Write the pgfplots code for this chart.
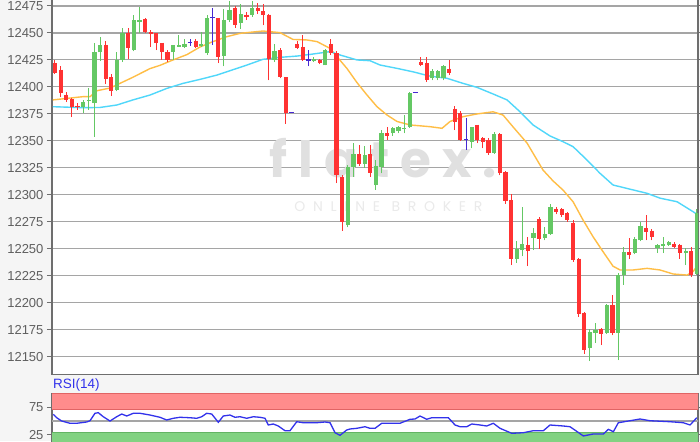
\documentclass[border=0pt]{standalone}
\usepackage{pgfplots}
\pgfplotsset{compat=1.18}
\usepackage{pgfplotstable}
\usepackage{fontspec}
\setmainfont{Liberation Sans}
\newfontfamily\wmfont{Poppins}

\definecolor{cup}{RGB}{100,200,100}
\definecolor{cdown}{RGB}{255,50,50}
\definecolor{cdoji}{RGB}{70,40,210}
\definecolor{maorange}{RGB}{255,190,70}
\definecolor{macyan}{RGB}{80,215,250}
\definecolor{gridc}{RGB}{165,165,165}
\definecolor{axisc}{RGB}{110,110,110}
\definecolor{bgc}{RGB}{245,245,245}
\definecolor{labc}{RGB}{95,95,95}
\definecolor{rsiblue}{RGB}{50,50,235}
\definecolor{bandred}{RGB}{255,140,140}
\definecolor{bandredd}{RGB}{225,100,100}
\definecolor{bandgreen}{RGB}{130,210,130}
\definecolor{bandgreend}{RGB}{100,180,100}
\definecolor{wmc}{RGB}{224,224,224}
\definecolor{wmc2}{RGB}{234,234,234}

\pgfplotstableread{
i O H L C
5 12381 12388 12376 12386
6 12387 12399 12379 12388
7 12385 12441 12354 12432
8 12432 12446 12424 12439
11 12397 12432 12396 12425
12 12425 12455 12423 12450
14 12434 12467 12433 12462
15 12460 12474 12450 12462
21 12432 12439 12425 12439
22 12437 12448 12437 12439
23 12437 12444 12436 12440
26 12438 12451 12437 12440
27 12431 12467 12430 12464
30 12429 12472 12419 12462
31 12462 12480 12460 12471
33 12459 12477 12454 12468
35 12467 12480 12465 12473
39 12425 12440 12423 12433
46 12424 12428 12423 12426
48 12420 12435 12420 12434
52 12272 12328 12270 12326
53 12326 12348 12317 12338
55 12329 12345 12325 12337
57 12309 12332 12305 12327
58 12326 12360 12320 12357
60 12357 12363 12355 12362
61 12359 12364 12357 12363
62 12361 12374 12357 12362
63 12363 12395 12362 12394
67 12408 12417 12406 12415
68 12408 12416 12406 12415
69 12408 12420 12406 12419
74 12349 12363 12343 12363
78 12339 12358 12338 12356
82 12241 12257 12237 12250
83 12249 12289 12243 12255
85 12260 12269 12249 12265
87 12260 12270 12258 12264
88 12264 12292 12263 12289
95 12158 12176 12146 12173
96 12172 12181 12163 12175
98 12172 12199 12171 12198
100 12172 12228 12147 12226
101 12226 12252 12217 12247
103 12246 12261 12245 12259
104 12258 12275 12257 12271
107 12251 12255 12246 12254
108 12253 12261 12246 12255
109 12254 12257 12253 12256
112 12246 12251 12235 12248
114 12227 12287 12226 12283
}\upcandles

\pgfplotstableread{
i O H L C
0 12422 12425 12412 12413
1 12416 12419 12391 12394
2 12393 12395 12386 12388
3 12389 12390 12372 12381
4 12382 12385 12379 12381
9 12439 12443 12403 12407
10 12409 12412 12392 12396
13 12450 12455 12426 12436
16 12463 12464 12450 12451
17 12451 12453 12437 12449
18 12450 12450 12434 12441
19 12441 12441 12425 12432
20 12432 12434 12423 12425
25 12443 12444 12436 12437
29 12464 12464 12422 12428
32 12473 12475 12455 12457
34 12467 12469 12462 12465
36 12473 12478 12468 12470
37 12470 12477 12457 12467
38 12467 12468 12406 12426
40 12434 12436 12408 12409
41 12409 12409 12366 12376
43 12440 12443 12435 12436
44 12437 12448 12424 12425
47 12425 12426 12421 12422
49 12440 12444 12430 12431
50 12431 12433 12311 12318
51 12317 12318 12267 12275
54 12338 12346 12327 12329
56 12338 12346 12317 12320
59 12357 12363 12351 12355
65 12423 12428 12419 12420
66 12422 12428 12405 12406
70 12417 12425 12411 12413
71 12380 12382 12360 12368
72 12376 12378 12350 12351
75 12365 12365 12348 12351
76 12353 12354 12343 12349
77 12351 12353 12337 12339
79 12356 12357 12318 12320
80 12321 12322 12292 12294
81 12295 12301 12235 12241
84 12254 12261 12234 12248
86 12278 12280 12250 12259
89 12287 12289 12282 12284
90 12287 12288 12280 12281
91 12283 12284 12275 12277
92 12274 12277 12238 12240
93 12241 12242 12187 12190
94 12191 12192 12153 12156
97 12176 12177 12161 12171
99 12198 12207 12170 12172
102 12247 12260 12241 12244
105 12269 12281 12258 12266
106 12267 12268 12258 12261
110 12255 12256 12251 12252
111 12254 12255 12241 12246
113 12248 12252 12224 12226
}\downcandles

\pgfplotstableread{
i O H L C
24 12441 12444 12438 12441
28 12464 12473 12439 12464
42 12376 12376 12376 12376
45 12425 12434 12419 12425
64 12395 12395 12395 12395
73 12351 12371 12342 12351
}\dojicandles

\pgfplotstableread{
x y
-0.36 12388
4.97 12391
6.22 12391
7.46 12396.5
9.77 12399
11.01 12402
13.85 12409
16.87 12417
18.65 12420
20.96 12425
23.45 12430
25.75 12437
28.06 12442
30.55 12446.6
32.86 12449.6
34.10 12450.3
36.94 12451.8
39.96 12450.3
42.27 12444
44.76 12443.5
46.54 12442
48.85 12435.7
50.09 12428
51.87 12417
53.64 12404
55.42 12392.5
57.19 12381.7
58.97 12374
60.75 12368
63.06 12364.8
66.61 12363.2
68.74 12361.7
70.16 12368
72.47 12372.5
74.96 12375
77.80 12377
79.57 12374
81.35 12363
83.84 12348
86.68 12323
88.45 12313
90.23 12304.5
92.01 12293.7
93.78 12276.8
95.56 12261.3
97.34 12247.4
99.11 12234
100.36 12230.5
102.66 12230.5
105.15 12232
107.46 12230.5
109.77 12226.8
112.26 12225.8
113.32 12229
114.03 12234
}\maone

\pgfplotstableread{
x y
-0.36 12381.7
4.97 12380.8
7.99 12381
11.01 12383.3
13.85 12388
16.87 12392.5
19.89 12398.7
22.74 12403.3
25.75 12407
28.77 12411
31.62 12416
34.10 12420.3
36.94 12425.6
39.96 12427.4
42.98 12428.6
45.83 12430.5
48.85 12432.7
50.62 12429.6
53.64 12425
55.95 12424.3
57.73 12420.3
60.75 12417.2
63.59 12414
66.61 12410
69.63 12408
72.47 12403.3
74.96 12399.6
77.80 12393.5
80.28 12388
82.59 12377
84.90 12364.8
87.92 12354.6
90.23 12349.3
92.01 12344.7
94.49 12332.3
96.80 12320
99.11 12309.2
101.60 12306
105.15 12301.5
107.46 12297
110.48 12293.7
113.32 12284.5
114.03 12282
}\matwo

\pgfplotstableread{
x y
-0.30 62.1
0.30 55.9
1.19 50.0
2.66 45.9
3.85 45.9
5.63 48.2
6.22 50.5
7.10 63.9
7.69 65.0
8.58 57.7
9.77 50.0
10.96 57.7
11.85 62.6
12.74 59.0
13.91 63.9
15.10 63.9
16.87 60.8
18.65 56.7
19.84 51.8
21.01 54.9
22.20 56.7
23.98 55.9
25.17 54.9
26.06 57.7
26.94 63.9
27.83 62.6
29.01 47.7
29.89 59.0
31.08 60.8
31.97 56.7
32.86 57.7
34.05 54.9
35.22 57.7
36.41 56.7
37.30 54.9
37.89 42.8
38.77 44.6
39.66 41.0
40.85 32.5
41.74 32.5
42.93 48.7
44.10 46.9
46.48 46.9
47.96 48.2
48.85 46.9
49.73 28.9
50.62 24.2
51.81 33.8
52.40 35.6
53.59 36.8
55.06 39.7
55.95 36.8
56.84 36.8
58.03 45.9
61.28 45.9
63.06 53.1
63.94 53.6
64.83 59.0
66.02 53.1
66.91 55.9
69.86 55.9
71.05 42.8
71.94 39.7
73.13 39.7
74.01 44.6
75.49 42.8
76.68 41.0
77.85 45.9
79.04 36.8
81.12 27.8
83.18 28.9
84.95 32.5
86.73 32.5
87.92 42.8
90.28 41.0
91.47 39.7
93.84 23.0
95.61 26.6
97.39 26.6
98.28 35.0
99.17 30.7
100.05 46.9
102.13 50.5
103.91 53.6
105.68 50.5
109.24 48.7
111.60 46.9
112.79 42.8
113.98 55.9
}\rsidata

\begin{document}
\begin{tikzpicture}[x=1pt,y=1pt]
\useasboundingbox (0,0) rectangle (700,441);
\clip (0,0) rectangle (700,441);
\fill[bgc] (0,0) rectangle (700,441);

% ---------------- main price panel ----------------
\begin{axis}[
  at={(52pt,66.7pt)}, anchor=south west,
  scale only axis, width=646pt, height=377.3pt,
  xmin=-0.53, xmax=114.2, ymin=12133.9, ymax=12483.3,
  xtick=\empty,
  ytick={12150,12175,...,12475},
  scaled y ticks=false,
  yticklabel style={/pgf/number format/fixed, /pgf/number format/precision=0,
    /pgf/number format/set thousands separator={},
    /pgf/number format/assume math mode=true,
    font=\fontsize{13}{13}\selectfont, text=labc},
  ymajorgrids, major grid style={gridc, line width=1.1pt},
  axis line style={axisc, line width=1.4pt},
  tick style={axisc, line width=1pt},
  tick align=outside, major tick length=5pt,
  axis background/.style={fill=white},
]
\node[text=wmc, font=\wmfont\bfseries\fontsize{50}{50}\selectfont\addfontfeatures{LetterSpace=22}] at (axis cs:58.3,12334) {flatex.};
\node[text=wmc2, font=\wmfont\fontsize{14}{14}\selectfont\addfontfeatures{LetterSpace=55}] at (axis cs:59.2,12289) {ONLINE BROKER};

\addplot[maorange, line width=1.4pt, mark=none] table[x=x,y=y] {\maone};
\addplot[macyan, line width=1.4pt, mark=none] table[x=x,y=y] {\matwo};

\addplot[cup, line width=1pt, mark=none, quiver={u=0, v=\thisrow{H}-\thisrow{L}}] table[x=i, y=L] {\upcandles};
\addplot[cup, line width=4.2pt, mark=none, quiver={u=0, v=\thisrow{C}-\thisrow{O}}] table[x=i, y=O] {\upcandles};
\addplot[cdown, line width=1pt, mark=none, quiver={u=0, v=\thisrow{H}-\thisrow{L}}] table[x=i, y=L] {\downcandles};
\addplot[cdown, line width=4.2pt, mark=none, quiver={u=0, v=\thisrow{C}-\thisrow{O}}] table[x=i, y=O] {\downcandles};
\addplot[cdoji, line width=1pt, mark=none, quiver={u=0, v=\thisrow{H}-\thisrow{L}}] table[x=i, y=L] {\dojicandles};
\addplot[cdoji, line width=1.2pt, mark=none, quiver={u=0.8, v=0}] table[x expr=\thisrow{i}-0.4, y=O] {\dojicandles};
\end{axis}

% ---------------- RSI panel ----------------
\node[anchor=base west, inner sep=0pt, text=rsiblue, font=\fontsize{13.5}{13.5}\selectfont] at (53,52.5) {RSI(14)};
\begin{axis}[
  at={(52pt,-1.97pt)}, anchor=south west,
  scale only axis, width=646pt, height=49.7pt,
  xmin=-0.53, xmax=114.2, ymin=10.4, ymax=100,
  xtick=\empty, ytick={25,75},
  yticklabel style={/pgf/number format/assume math mode=true,
    font=\fontsize{13}{13}\selectfont, text=labc},
  axis line style={axisc, line width=1.4pt},
  tick style={axisc, line width=1pt},
  tick align=outside, major tick length=5pt,
  axis background/.style={fill=white},
]
\addplot[fill=bandred, draw=bandredd, line width=1pt, mark=none] coordinates {(-1,70) (116,70) (116,100) (-1,100) (-1,70)};
\addplot[fill=bandgreen, draw=bandgreend, line width=1pt, mark=none] coordinates {(-1,0) (116,0) (116,30) (-1,30) (-1,0)};
\addplot[gridc, line width=1.1pt, mark=none] coordinates {(-1,50) (116,50)};
\addplot[rsiblue, line width=1.3pt, mark=none] table[x=x,y=y] {\rsidata};
\end{axis}
\end{tikzpicture}
\end{document}
